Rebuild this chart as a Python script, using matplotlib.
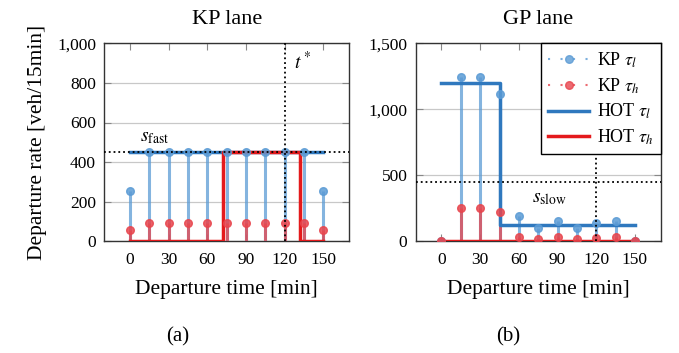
import matplotlib
matplotlib.use("Agg")
import matplotlib.pyplot as plt
from matplotlib.lines import Line2D
from matplotlib.ticker import FuncFormatter

plt.rcParams['font.family'] = ['Liberation Serif', 'DejaVu Serif']
plt.rcParams['mathtext.fontset'] = 'stix'

# departure times [min]
times = [0, 15, 30, 45, 60, 75, 90, 105, 120, 135, 150]

# KP lane
kp_fast_tl = [255, 450, 450, 450, 450, 450, 450, 450, 450, 450, 255]
kp_fast_th = [55, 90, 90, 90, 90, 90, 90, 90, 90, 90, 55]
hot_fast_tl_x = [0, 150]
hot_fast_tl_y = [450, 450]
hot_fast_th_x = [0, 72, 72, 132, 132, 150]
hot_fast_th_y = [0, 0, 450, 450, 0, 0]
s_fast = 450

# GP lane
kp_slow_tl = [0, 1245, 1245, 1115, 188, 100, 155, 104, 135, 155, 0]
kp_slow_th = [0, 251, 251, 221, 36, 18, 33, 20, 25, 33, 0]
hot_slow_tl_x = [0, 45, 45, 150]
hot_slow_tl_y = [1200, 1200, 127, 127]
hot_slow_th_x = [0, 150]
hot_slow_th_y = [0, 0]
s_slow = 450

t_star = 120

c_kp_l = '#5b9bd5'
c_kp_h = '#e8454d'
c_hot_l = '#2f78be'
c_hot_h = '#e41a1c'

fig = plt.figure(figsize=(6.79, 3.53), dpi=100)
ax1 = fig.add_axes([104.3/679, 1-241.3/353, 244.7/679, 198/353])
ax2 = fig.add_axes([415.7/679, 1-241.3/353, 245/679, 198/353])

def stems(ax, x, y, c):
    ax.vlines(x, 0, y, color=c, lw=2.2, alpha=0.75, zorder=3)
    ax.plot(x, y, 'o', color=c, ms=5.5, alpha=0.85, zorder=5)

def style(ax, ymax, ystep):
    ax.set_xlim(-20, 170)
    ax.set_ylim(0, ymax)
    ax.set_xticks(range(0, 151, 30))
    ax.set_yticks(range(0, ymax + 1, ystep))
    ax.yaxis.set_major_formatter(FuncFormatter(lambda v, p: f'{int(v):,}'))
    ax.grid(axis='y', color='#c8c8c8', lw=0.9, zorder=0)
    ax.tick_params(direction='in', top=True, right=True, length=5,
                   color='#888888', labelsize=12.5)
    ax.tick_params(axis='x', pad=8)
    ax.tick_params(axis='y', pad=6)
    for s in ax.spines.values():
        s.set_color('#333333')
        s.set_linewidth(1.0)
    ax.set_xlabel('Departure time [min]', fontsize=15.5, labelpad=8)

# left: KP lane
stems(ax1, times, kp_fast_tl, c_kp_l)
stems(ax1, times, kp_fast_th, c_kp_h)
ax1.plot(hot_fast_tl_x, hot_fast_tl_y, color=c_hot_l, lw=2.5, zorder=4)
ax1.plot(hot_fast_th_x, hot_fast_th_y, color=c_hot_h, lw=2.5, zorder=4)
ax1.axhline(s_fast, color='black', ls=':', lw=1.3, zorder=6)
ax1.axvline(t_star, color='black', ls=':', lw=1.3, zorder=6)
ax1.text(127, 905, '$t^*$', fontsize=14, va='center', ha='left')
ax1.text(8, 525, r'$s_{\mathrm{fast}}$', fontsize=14, va='center', ha='left')
style(ax1, 1000, 200)
ax1.set_title('KP lane', fontsize=16, pad=14)
ax1.set_ylabel('Departure rate [veh/15min]', fontsize=15.5, labelpad=7)

# right: GP lane
stems(ax2, times, kp_slow_tl, c_kp_l)
stems(ax2, times, kp_slow_th, c_kp_h)
ax2.plot(hot_slow_tl_x, hot_slow_tl_y, color=c_hot_l, lw=2.5, zorder=4)
ax2.plot(hot_slow_th_x, hot_slow_th_y, color=c_hot_h, lw=2.5, zorder=4)
ax2.axhline(s_slow, color='black', ls=':', lw=1.3, zorder=6)
ax2.axvline(t_star, color='black', ls=':', lw=1.3, zorder=6)
ax2.text(70, 325, r'$s_{\mathrm{slow}}$', fontsize=14, va='center', ha='left')
style(ax2, 1500, 500)
ax2.set_title('GP lane', fontsize=16, pad=14)

handles = [
    Line2D([], [], color=c_kp_l, ls=(0, (1, 5)), lw=1.5, alpha=0.8,
           marker='o', ms=5.5),
    Line2D([], [], color=c_kp_h, ls=(0, (1, 5)), lw=1.5, alpha=0.8,
           marker='o', ms=5.5),
    Line2D([], [], color=c_hot_l, lw=2.5),
    Line2D([], [], color=c_hot_h, lw=2.5),
]
labels = [r'KP $\tau_l$', r'KP $\tau_h$', r'HOT $\tau_l$', r'HOT $\tau_h$']
leg = ax2.legend(handles, labels, loc='upper right', numpoints=1,
                 fontsize=13, fancybox=False, framealpha=1,
                 edgecolor='black', borderaxespad=0, handlelength=2.3,
                 handletextpad=0.4, labelspacing=0.35, borderpad=0.4)
leg.get_frame().set_linewidth(1.0)
leg.set_zorder(10)

fig.text(178/679, 1-337/353, '(a)', fontsize=15, ha='center', va='center')
fig.text(508/679, 1-337/353, '(b)', fontsize=15, ha='center', va='center')

fig.savefig('out.png', dpi=100)
